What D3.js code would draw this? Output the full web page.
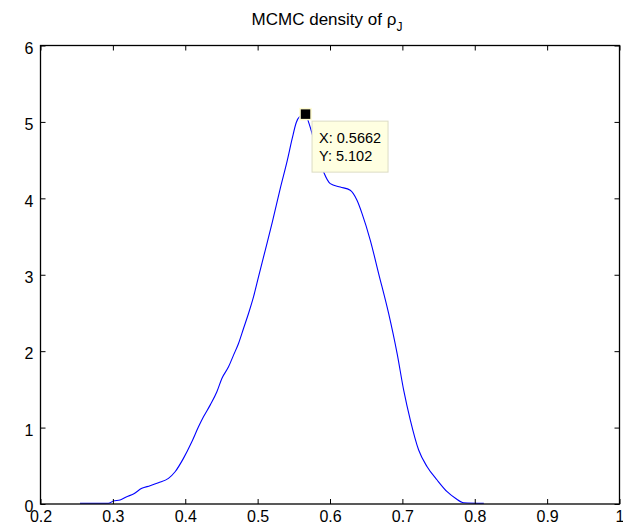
<!DOCTYPE html>
<html>
<head>
<meta charset="utf-8">
<script src="https://cdn.jsdelivr.net/npm/d3@7/dist/d3.min.js"></script>
<style>
  html, body { margin: 0; padding: 0; background: #fff; }
  svg { display: block; font-family: Arial, "Liberation Sans", Helvetica, sans-serif; }
</style>
</head>
<body>
<svg id="chart" width="623" height="526"></svg>
<script>
// Kernel density estimate of rho_J from the MCMC draws
const rhoX = [0.2546, 0.2938, 0.3007, 0.3100, 0.3192, 0.3284, 0.3400, 0.3514, 0.3629, 0.3768,
              0.3860, 0.3975, 0.4091, 0.4183, 0.4252, 0.4344, 0.4437, 0.4506, 0.4598, 0.4667,
              0.4736, 0.4805, 0.4874, 0.4943, 0.5012, 0.5105, 0.5202, 0.5313, 0.5410, 0.5478,
              0.5534, 0.5580, 0.5662, 0.5704, 0.5797, 0.5912, 0.6004, 0.6142, 0.6280, 0.6373,
              0.6443, 0.6557, 0.6672, 0.6810, 0.6927, 0.7018, 0.7110, 0.7225, 0.7342, 0.7480,
              0.7618, 0.7733, 0.7848, 0.8125];
const densityY = [0.009, 0.009, 0.039, 0.052, 0.095, 0.131, 0.205, 0.239, 0.278, 0.336,
                  0.422, 0.597, 0.814, 1.010, 1.141, 1.294, 1.468, 1.643, 1.795, 1.948,
                  2.101, 2.297, 2.493, 2.710, 2.971, 3.320, 3.686, 4.131, 4.497, 4.784,
                  4.993, 5.070, 5.102, 4.997, 4.700, 4.344, 4.192, 4.148, 4.105, 3.974,
                  3.800, 3.451, 3.016, 2.493, 1.970, 1.490, 1.098, 0.706, 0.488, 0.314,
                  0.161, 0.075, 0.017, 0.009];

// Data cursor at the mode
const tipX = 0.5662;
const tipY = 5.102;

const xTicks = [0.2, 0.3, 0.4, 0.5, 0.6, 0.7, 0.8, 0.9, 1];
const xTickLabels = ["0.2", "0.3", "0.4", "0.5", "0.6", "0.7", "0.8", "0.9", "1"];
const yTicks = [0, 1, 2, 3, 4, 5, 6];
const yTickLabels = ["0", "1", "2", "3", "4", "5", "6"];

const svg = d3.select("#chart");
const plotLeft = 40.5, plotRight = 619.5, plotTop = 45.5, plotBottom = 504;

const x = d3.scaleLinear().domain([0.2, 1]).range([plotLeft, plotRight]);
const y = d3.scaleLinear().domain([0, 6]).range([plotBottom, plotTop]);

// density curve
const pts = rhoX.map((v, i) => [v, densityY[i]]);
svg.append("path")
  .datum(pts)
  .attr("fill", "none")
  .attr("stroke", "#0000ff")
  .attr("stroke-width", 1.1)
  .attr("d", d3.line().x(d => x(d[0])).y(d => y(d[1])).curve(d3.curveMonotoneX));

// axes: ticks point inward on all four sides
const fontSize = 16;
function styleAxis(g) {
  g.select(".domain").remove();
  g.selectAll(".tick line").attr("stroke", "#000").attr("stroke-width", 1);
  g.selectAll(".tick text").attr("fill", "#000").attr("font-size", fontSize)
    .attr("font-family", "Arial, 'Liberation Sans', Helvetica, sans-serif");
}

svg.append("g")
  .attr("transform", `translate(0,${plotBottom})`)
  .call(d3.axisBottom(x).tickValues(xTicks).tickSize(-5).tickSizeOuter(0).tickPadding(7)
    .tickFormat((d, i) => xTickLabels[i]))
  .call(styleAxis);

svg.append("g")
  .attr("transform", `translate(0,${plotTop})`)
  .call(d3.axisTop(x).tickValues(xTicks).tickSize(-5).tickSizeOuter(0).tickFormat(""))
  .call(styleAxis);

svg.append("g")
  .attr("transform", `translate(${plotLeft},0)`)
  .call(d3.axisLeft(y).tickValues(yTicks).tickSize(-5).tickSizeOuter(0).tickPadding(7)
    .tickFormat((d, i) => yTickLabels[i]))
  .call(styleAxis)
  .call(g => g.selectAll(".tick text").attr("dy", "0.48em"));

svg.append("g")
  .attr("transform", `translate(${plotRight},0)`)
  .call(d3.axisRight(y).tickValues(yTicks).tickSize(-5).tickSizeOuter(0).tickFormat(""))
  .call(styleAxis);

// axes box
svg.append("rect")
  .attr("x", plotLeft).attr("y", plotTop)
  .attr("width", plotRight - plotLeft).attr("height", plotBottom - plotTop)
  .attr("fill", "none").attr("stroke", "#000").attr("stroke-width", 1.3);

// title with subscript
const title = svg.append("text")
  .attr("x", (plotLeft + plotRight) / 2 - 3)
  .attr("y", 25)
  .attr("text-anchor", "middle")
  .attr("font-size", 17)
  .attr("fill", "#000");
title.append("tspan").text("MCMC density of ρ");
title.append("tspan").attr("font-size", 12).attr("dy", 6).text("J");

// data cursor marker and label
const mx = x(tipX), my = y(tipY);
svg.append("rect")
  .attr("x", mx - 5.5).attr("y", my - 5.5)
  .attr("width", 11).attr("height", 11)
  .attr("fill", "#000").attr("stroke", "#fffbd0").attr("stroke-width", 1.5);

const tip = svg.append("g").attr("transform", `translate(${mx + 6.5},${my + 7})`);
tip.append("rect")
  .attr("x", 0).attr("y", 0).attr("width", 76).attr("height", 51)
  .attr("fill", "#ffffe1").attr("stroke", "#dcdcc4").attr("stroke-width", 1);
tip.append("text").attr("x", 7).attr("y", 22).attr("font-size", 14.5).attr("fill", "#000")
  .text(`X: ${tipX}`);
tip.append("text").attr("x", 7).attr("y", 40).attr("font-size", 14.5).attr("fill", "#000")
  .text(`Y: ${tipY}`);
</script>
</body>
</html>
